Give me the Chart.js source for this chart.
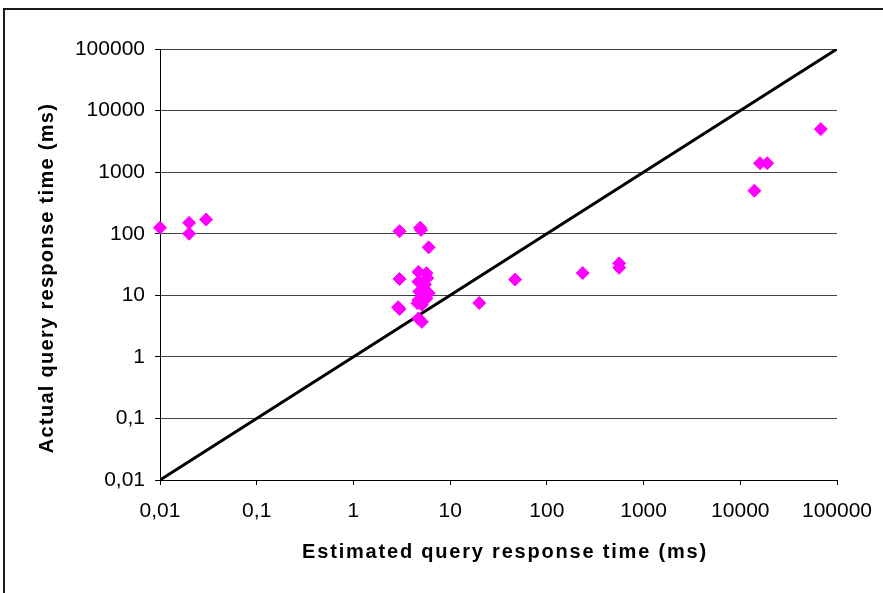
<!DOCTYPE html>
<html>
<head>
<meta charset="utf-8">
<script src="https://cdn.jsdelivr.net/npm/chart.js@4/dist/chart.umd.min.js"></script>
<style>
html,body{margin:0;padding:0;background:#fff;}
#wrap{position:relative;width:883px;height:593px;}
</style>
</head>
<body>
<div id="wrap"><canvas id="c" width="883" height="593"></canvas></div>
<script>
// Estimated vs actual query response time (ms)
const estimated = [0.01, 0.02, 0.02, 0.03,
  3.0, 4.9, 5.0, 6.0,
  3.0, 4.7, 5.7, 5.8, 4.7, 5.5,
  4.8, 6.0, 4.7, 5.7, 4.6, 5.1, 2.9, 3.0, 4.7, 5.1,
  20, 47, 235, 560, 560,
  14000, 16000, 19000, 68000];
const actual = [125, 150, 100, 170,
  110, 125, 115, 60,
  18.4, 24, 22.8, 19, 16.6, 15,
  11.5, 10.8, 8.4, 8.9, 7.4, 7.0, 6.4, 6.0, 4.2, 3.7,
  7.5, 18, 23, 33, 28,
  500, 1400, 1400, 5000];
const diagonal = [0.01, 100000];
const tickValues = [0.01, 0.1, 1, 10, 100, 1000, 10000, 100000];
const xTitle = 'Estimated query response time (ms)';
const yTitle = 'Actual query response time (ms)';

const FONT = '"Liberation Sans", Arial, sans-serif';

const scatterData = estimated.map((v, i) => ({x: v, y: actual[i]}));
const lineData = diagonal.map(v => ({x: v, y: v}));

const fmt = v => String(v).replace('.', ',');

const frame = {
  id: 'frame',
  afterDraw(chart) {
    const ctx = chart.ctx;
    ctx.save();
    ctx.strokeStyle = '#1a1a1a';
    ctx.lineWidth = 2;
    ctx.strokeRect(4, 9, 1000, 1000);
    ctx.fillStyle = '#000';
    ctx.font = 'bold 20px ' + FONT;
    // x title
    ctx.letterSpacing = '1.8px';
    ctx.textAlign = 'center';
    ctx.textBaseline = 'alphabetic';
    ctx.fillText(xTitle, 505, 558);
    // y title
    ctx.letterSpacing = '1.3px';
    ctx.translate(53, 278);
    ctx.rotate(-Math.PI / 2);
    ctx.fillText(yTitle, 0, 0);
    ctx.restore();
  }
};

new Chart(document.getElementById('c'), {
  data: {
    datasets: [
      {
        type: 'scatter',
        data: scatterData,
        order: 0,
        clip: false,
        pointStyle: 'rectRot',
        pointRadius: 6.5,
        pointHoverRadius: 6.5,
        backgroundColor: '#FF00FF',
        borderColor: '#FF00FF',
        borderWidth: 1
      },
      {
        type: 'line',
        data: lineData,
        order: 1,
        borderColor: '#000',
        borderWidth: 3,
        pointRadius: 0,
        fill: false
      }
    ]
  },
  options: {
    responsive: false,
    animation: false,
    layout: {padding: {top: 49, right: 46, left: 0, bottom: 0}},
    plugins: {legend: {display: false}, tooltip: {enabled: false}},
    scales: {
      x: {
        type: 'logarithmic',
        min: 0.01, max: 100000,
        afterBuildTicks: s => { s.ticks = tickValues.map(v => ({value: v})); },
        afterFit: s => { s.height = 113; s.paddingLeft = 0; s.paddingRight = 0; },
        grid: {drawOnChartArea: false, drawTicks: true, tickLength: 5, color: '#000'},
        border: {color: '#000', width: 1},
        ticks: {
          callback: v => fmt(v),
          color: '#000', font: {family: FONT, size: 21}, padding: 14,
          maxRotation: 0, autoSkip: false
        }
      },
      y: {
        type: 'logarithmic',
        min: 0.01, max: 100000,
        afterBuildTicks: s => { s.ticks = tickValues.map(v => ({value: v})); },
        afterFit: s => { s.width = 160; s.paddingTop = 0; s.paddingBottom = 0; },
        grid: {color: '#444', tickColor: '#000', drawTicks: true, tickLength: 5},
        border: {color: '#000', width: 1},
        ticks: {
          callback: v => fmt(v),
          color: '#000', font: {family: FONT, size: 21}, padding: 10,
          autoSkip: false
        }
      }
    }
  },
  plugins: [frame]
});
</script>
</body>
</html>
